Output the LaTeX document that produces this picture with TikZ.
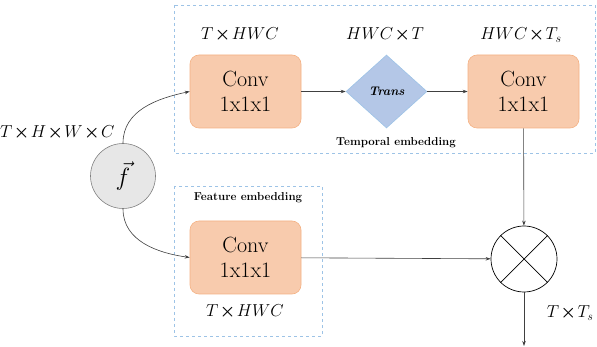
\documentclass[tikz,border=0pt]{standalone}
\usepackage{amsmath,amssymb}
\usepackage{tikz}
\usetikzlibrary{arrows.meta,shapes.geometric,positioning}
\definecolor{convfill}{HTML}{F8CBAD}
\definecolor{convdraw}{HTML}{F4B183}
\definecolor{transfill}{HTML}{B4C7E7}
\definecolor{transdraw}{HTML}{9DC3E6}
\definecolor{boxline}{HTML}{9DC3E6}
\definecolor{arrowline}{HTML}{404040}
\definecolor{ffill}{HTML}{E7E7E7}
\tikzset{
  convbox/.style={draw=convdraw, fill=convfill, rounded corners=9pt, line width=0.6pt,
    minimum width=111pt, minimum height=73pt, align=center, font=\fontsize{22}{25}\selectfont},
  transbox/.style={diamond, draw=transdraw, fill=transfill, line width=0.6pt, aspect=1.11,
    minimum width=81pt, minimum height=73pt, inner sep=0pt, font=\fontsize{12.5}{14}\selectfont\bfseries\itshape},
  embbox/.style={draw=boxline, dashed, line width=0.8pt},
  flow/.style={draw=arrowline, line width=0.6pt, -{Stealth[length=5pt,width=3.5pt]}},
  dims/.style={font=\fontsize{18.5}{22}\selectfont},
  tag/.style={font=\fontsize{11.5}{14}\selectfont\bfseries},
  fnode/.style={circle, draw=gray, fill=ffill, line width=0.6pt, minimum size=65pt, inner sep=0pt},
  mulnode/.style={circle, draw=black, line width=0.7pt, minimum size=66pt, inner sep=0pt}
}
\newcommand{\tm}{\mkern1.5mu{\boldsymbol{\times}}\mkern1.5mu}

\begin{document}
\begin{tikzpicture}[x=1pt, y=-1pt]
  \useasboundingbox (0,0) rectangle (597,347);

  % embedding frames
  \draw[embbox] (174,5) rectangle (595,153);
  \draw[embbox] (174,186) rectangle (322,336);

  % blocks
  \node[fnode] (f) at (123,176) {\fontsize{24}{26}\selectfont$\vec{f}$};
  \node[convbox] (conva) at (245.5,91.5) {Conv\\1x1x1};
  \node[transbox] (trans) at (386.5,91.5) {Trans};
  \node[convbox] (convb) at (523.5,91.5) {Conv\\1x1x1};
  \node[convbox] (convc) at (245.5,257.5) {Conv\\1x1x1};
  \node[mulnode] (mul) at (524,259) {};
  \draw[line width=0.7pt] (mul.north west) -- (mul.south east)
                          (mul.north east) -- (mul.south west);
  \coordinate (out) at (524,346);

  % labels
  \node[dims, anchor=east] at (118,133) {$T\tm H\tm W\tm C$};
  \node[dims] at (240,35) {$T\tm HWC$};
  \node[dims] at (385,35) {$HWC\tm T$};
  \node[dims] at (521,35) {$HWC\tm T_s$};
  \node[dims] at (245,312) {$T\tm HWC$};
  \node[dims, anchor=east] at (597,313) {$T\tm T_s$};
  \node[tag] at (396,143) {Temporal embedding};
  \node[tag] at (248,198) {Feature embedding};

  % connectors
  \draw[flow] (f.north) to[out=90, in=192] (conva.west);
  \draw[flow] (f.south) to[out=-90, in=172] (convc.west);
  \draw[flow] (conva) -- (trans);
  \draw[flow] (trans) -- (convb);
  \draw[flow] (convb) -- (mul);
  \draw[flow] (convc) -- (mul);
  \draw[flow] (mul) -- (out);
\end{tikzpicture}
\end{document}
